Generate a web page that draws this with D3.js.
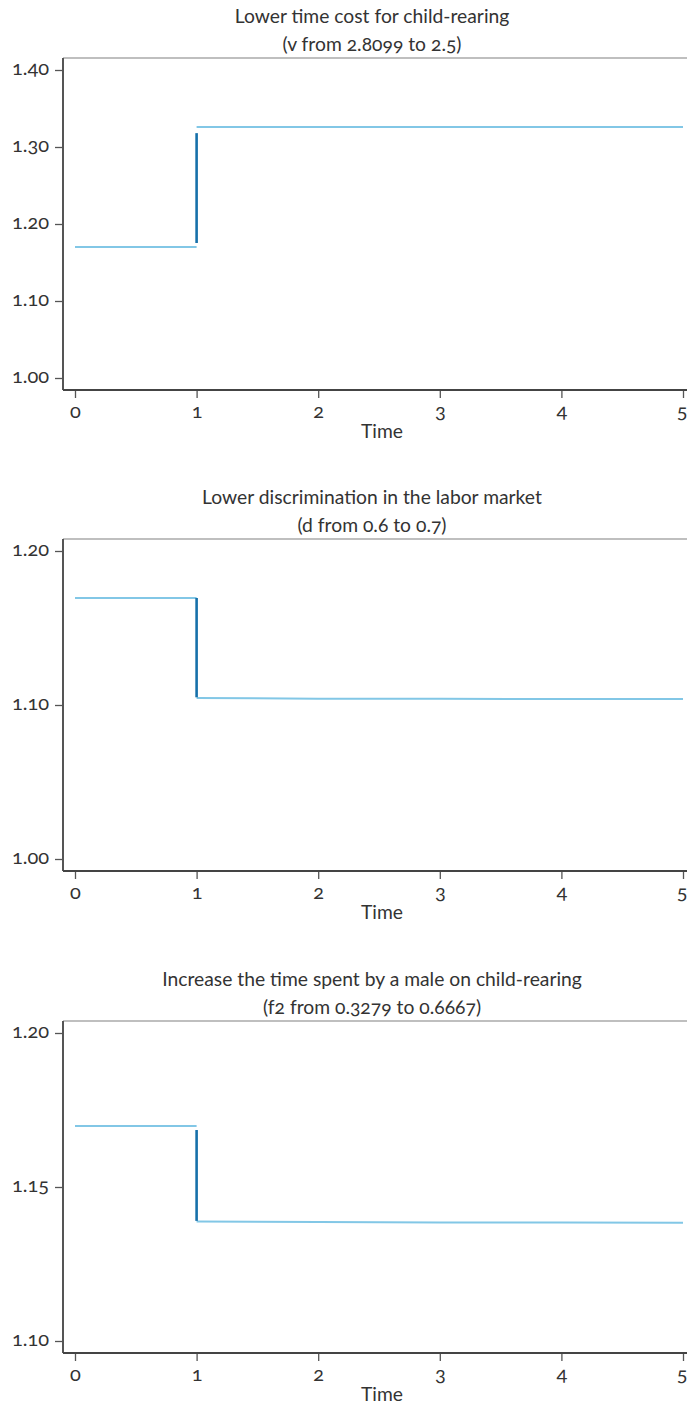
<!DOCTYPE html>
<html><head><meta charset="utf-8">
<script src="https://cdn.jsdelivr.net/npm/d3@7"></script>
<style>
html,body{margin:0;padding:0;background:#fff;}
svg text{font-family:Lato,"Open Sans",sans-serif;font-variant-numeric:oldstyle-nums;font-feature-settings:"onum" 1;fill:#333;}
</style></head>
<body><svg id="c" width="687" height="1408"></svg>
<script>
// ---- data ----
const titles1 = ["Lower time cost for child-rearing", "Lower discrimination in the labor market", "Increase the time spent by a male on child-rearing"];
const titles2 = ["(v from 2.8099 to 2.5)", "(d from 0.6 to 0.7)", "(f2 from 0.3279 to 0.6667)"];
const xTicks = [0, 1, 2, 3, 4, 5];
const yTicks1 = [1.00, 1.10, 1.20, 1.30, 1.40];
const yTicks2 = [1.00, 1.10, 1.20];
const yTicks3 = [1.10, 1.15, 1.20];
const preTime = [0, 1];
const postTime = [1, 2, 3, 4, 5];
const pre1 = [1.170, 1.170];
const post1 = [1.326, 1.326, 1.326, 1.326, 1.326];
const pre2 = [1.1695, 1.1695];
const post2 = [1.1045, 1.1041, 1.1040, 1.1039, 1.1039];
const pre3 = [1.1698, 1.1698];
const post3 = [1.1388, 1.1386, 1.1385, 1.1385, 1.1384];
const jump1 = [1.1753, 1.318];
const jump2 = [1.1695, 1.105];
const jump3 = [1.1685, 1.139];
const jumpTime = 1;

const panels = [
  {t1: titles1[0], t2: titles2[0], ticks: yTicks1, pre: pre1, post: post1, jump: jump1},
  {t1: titles1[1], t2: titles2[1], ticks: yTicks2, pre: pre2, post: post2, jump: jump2},
  {t1: titles1[2], t2: titles2[2], ticks: yTicks3, pre: pre3, post: post3, jump: jump3}
];
const offsets = [58, 539, 1021];
const light = "#82c7e6", dark = "#1670aa";

const svg = d3.select("#c");
const L = 63, R = 687, H = 332;
const x = d3.scaleLinear().domain([0, 5]).range([75, 683]);
const FONT = "Lato, 'Open Sans', sans-serif";

panels.forEach((p, i) => {
  const g = svg.append("g").attr("transform", `translate(0,${offsets[i]})`);
  const y = d3.scaleLinear().domain([d3.min(p.ticks), d3.max(p.ticks)]).range([320, 12]);
  // titles
  g.append("text").attr("x", 372).attr("y", -35).attr("text-anchor", "middle").attr("font-size", 19.3).text(p.t1);
  g.append("text").attr("x", 372).attr("y", -7).attr("text-anchor", "middle").attr("font-size", 19.3).text(p.t2);
  // top frame
  g.append("line").attr("x1", L).attr("x2", R).attr("y1", 0).attr("y2", 0).attr("stroke", "#aaa").attr("stroke-width", 1.6);
  // y axis
  const ya = g.append("g").attr("transform", `translate(${L},0)`)
    .call(d3.axisLeft(y).tickValues(p.ticks).tickFormat(d3.format(".2f")).tickSize(8).tickPadding(6).tickSizeOuter(0));
  ya.attr("font-size", null).attr("font-family", null);
  ya.select(".domain").remove();
  ya.append("line").attr("x1", 0).attr("x2", 0).attr("y1", 0).attr("y2", H).attr("stroke", "#555").attr("stroke-width", 2);
  ya.selectAll(".tick line").attr("stroke", "#555").attr("stroke-width", 1.3);
  ya.selectAll(".tick text").style("font-size", "20px").style("font-family", FONT).attr("fill", "#333").attr("dy", "0.22em");
  // x axis
  const xa = g.append("g").attr("transform", `translate(0,${H})`)
    .call(d3.axisBottom(x).tickValues(xTicks).tickFormat(d3.format("d")).tickSize(8).tickPadding(10).tickSizeOuter(0));
  xa.attr("font-size", null).attr("font-family", null);
  xa.select(".domain").remove();
  xa.append("line").attr("x1", L).attr("x2", R).attr("y1", 0).attr("y2", 0).attr("stroke", "#444").attr("stroke-width", 2);
  xa.selectAll(".tick line").attr("stroke", "#555").attr("stroke-width", 1.3);
  xa.selectAll(".tick text").style("font-size", "20px").style("font-family", FONT).attr("fill", "#333").attr("dy", "0.5em");
  // keep the last label inside the page edge
  xa.selectAll(".tick text").filter(d => d === d3.max(xTicks)).attr("text-anchor", "end").attr("x", 4);
  g.append("text").attr("x", 382).attr("y", H + 48).attr("text-anchor", "middle").attr("font-size", 19.3).text("Time");
  // lines
  const line = d3.line().x(d => x(d[0])).y(d => y(d[1]));
  g.append("path").datum(preTime.map((t, k) => [t, p.pre[k]])).attr("d", line)
    .attr("fill", "none").attr("stroke", light).attr("stroke-width", 2);
  g.append("path").datum(postTime.map((t, k) => [t, p.post[k]])).attr("d", line)
    .attr("fill", "none").attr("stroke", light).attr("stroke-width", 2);
  g.append("path").datum(p.jump.map(v => [jumpTime, v])).attr("d", line)
    .attr("fill", "none").attr("stroke", dark).attr("stroke-width", 2.6);
});
</script></body></html>
